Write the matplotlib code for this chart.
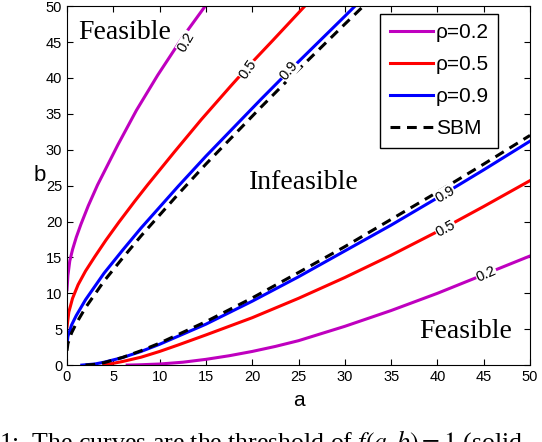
import matplotlib
matplotlib.use("Agg")
import matplotlib.pyplot as plt

# curves (a, b)
rho02_up_a = [0, 0.1, 0.3, 0.6, 1.0, 1.5, 2.3, 3.3, 4.4, 5.5, 7.5, 9.8, 12.5, 15.2]
rho02_up_b = [10.5, 12.5, 14.5, 16.1, 17.8, 19.6, 22.2, 25.1, 27.9, 30.7, 35.5, 40.4, 45.7, 50.5]
rho02_lo_a = [6.5, 8, 10, 12.5, 15, 17.5, 20, 22.5, 25, 27.5, 30, 32.5, 35, 37.5, 40, 42.5, 45, 47.5, 50]
rho02_lo_b = [0, 0.05, 0.15, 0.4, 0.8, 1.3, 1.9, 2.6, 3.4, 4.4, 5.4, 6.5, 7.6, 8.8, 10.0, 11.3, 12.6, 13.9, 15.2]

rho05_up_a = [0, 0.2, 0.6, 1.2, 2.0, 3.0, 4.2, 5.6, 7.3, 8.7, 11.6, 14.5, 17.7, 20.0, 22.2, 25.6]
rho05_up_b = [5.3, 7.4, 9.3, 11.2, 13.1, 15.1, 17.4, 19.9, 22.8, 25.1, 29.7, 34.2, 38.9, 42.2, 45.2, 49.9]
rho05_lo_a = [4, 6, 8, 10, 12, 15, 20, 25, 30, 35, 40, 45, 50]
rho05_lo_b = [0, 0.5, 1.1, 1.9, 2.8, 4.2, 6.6, 9.3, 12.2, 15.3, 18.6, 22.1, 25.7]

rho09_up_a = [0, 0.1, 0.5, 1, 2, 4, 6, 8, 10, 12, 15, 18, 21, 24, 27, 30, 31.4]
rho09_up_b = [2.8, 4.0, 5.6, 6.9, 9.1, 12.8, 16.0, 19.1, 22.0, 24.9, 29.1, 33.1, 37.1, 41.0, 44.8, 48.6, 50.4]
rho09_lo_a = [1.6, 3, 4, 6, 8, 10, 15, 20, 25, 30, 35, 40, 45, 50]
rho09_lo_b = [0, 0.15, 0.4, 1.05, 1.9, 2.9, 5.7, 8.9, 12.3, 15.9, 19.5, 23.3, 27.2, 31.2]

sbm_up_a = [0, 0.1, 0.5, 1, 2, 4, 6, 8, 10, 12, 15, 18, 21, 24, 27, 30, 32]
sbm_up_b = [2, 3.0, 4.5, 5.8, 8, 11.7, 14.9, 18.0, 20.9, 23.8, 28.0, 32.0, 36.0, 39.9, 43.7, 47.5, 50]
sbm_lo_a = [2, 3, 4, 6, 8, 10, 15, 20, 25, 30, 35, 40, 45, 50]
sbm_lo_b = [0, 0.1, 0.34, 1.07, 2.0, 3.06, 6.05, 9.35, 12.9, 16.5, 20.3, 24.1, 28.0, 32.0]

labels = ["0.2", "0.5", "0.9"]
label_a = [12.9, 19.5, 24.0, 45.3, 40.9, 40.8]
label_b = [45.0, 41.2, 41.0, 12.6, 19.0, 23.8]
label_rot = [60, 55, 50, 24, 28, 30]

magenta = "#bf00bf"
plt.rcParams["mathtext.fontset"] = "stix"

fig = plt.figure(figsize=(5.42, 4.42), dpi=100)
ax = fig.add_axes([0.1236, 0.174, 0.8543, 0.812])

ax.plot(rho02_up_a, rho02_up_b, color=magenta, lw=2.2, label="ρ=0.2")
ax.plot(rho02_lo_a, rho02_lo_b, color=magenta, lw=2.2)
ax.plot(rho05_up_a, rho05_up_b, color="red", lw=2.2, label="ρ=0.5")
ax.plot(rho05_lo_a, rho05_lo_b, color="red", lw=2.2)
ax.plot(rho09_up_a, rho09_up_b, color="blue", lw=2.2, label="ρ=0.9")
ax.plot(rho09_lo_a, rho09_lo_b, color="blue", lw=2.2)
ax.plot(sbm_up_a, sbm_up_b, color="black", lw=2.2, ls=(0, (3.2, 2.2)), label="SBM")
ax.plot(sbm_lo_a, sbm_lo_b, color="black", lw=2.2, ls=(0, (3.2, 2.2)))

# contour labels
for i in range(6):
    ax.text(label_a[i], label_b[i], labels[i % 3], rotation=label_rot[i],
            ha="center", va="center", fontsize=10.5, family="Liberation Sans",
            bbox=dict(facecolor="white", edgecolor="none", pad=0.3), zorder=5)

serif = "Liberation Serif"
ax.text(1.2, 46.4, "Feasible", fontsize=20, family=serif, va="center")
ax.text(25.6, 25.5, "Infeasible", fontsize=20, family=serif, ha="center", va="center")
ax.text(43.0, 4.7, "Feasible", fontsize=20, family=serif, ha="center", va="center")

ax.set_xlim(0, 50)
ax.set_ylim(0, 50)
ax.set_xticks(range(0, 51, 5))
ax.set_yticks(range(0, 51, 5))
ax.tick_params(direction="in", top=True, right=True, length=4, labelsize=10.5)
for lab in ax.get_xticklabels() + ax.get_yticklabels():
    lab.set_family("Liberation Sans")
ax.set_xlabel("a", fontsize=15, family="Liberation Sans", labelpad=5)
ax.set_ylabel("b", fontsize=16, family="Liberation Sans", rotation=0)
ax.yaxis.set_label_coords(-0.058, 0.50)

leg = ax.legend(loc="upper right", bbox_to_anchor=(0.931, 0.978), borderaxespad=0,
                fancybox=False, edgecolor="black", framealpha=1, handlelength=2.1,
                prop={"family": "Liberation Sans", "size": 15}, labelspacing=0.62,
                handletextpad=0.1, borderpad=0.45)
leg.get_frame().set_linewidth(1)

fig.text(-0.002, -0.018, "1:  The curves are the threshold of $f(a, b) = 1$ (solid",
         fontsize=18.5, family=serif, ha="left", va="baseline")

fig.savefig("out.png", dpi=100)
